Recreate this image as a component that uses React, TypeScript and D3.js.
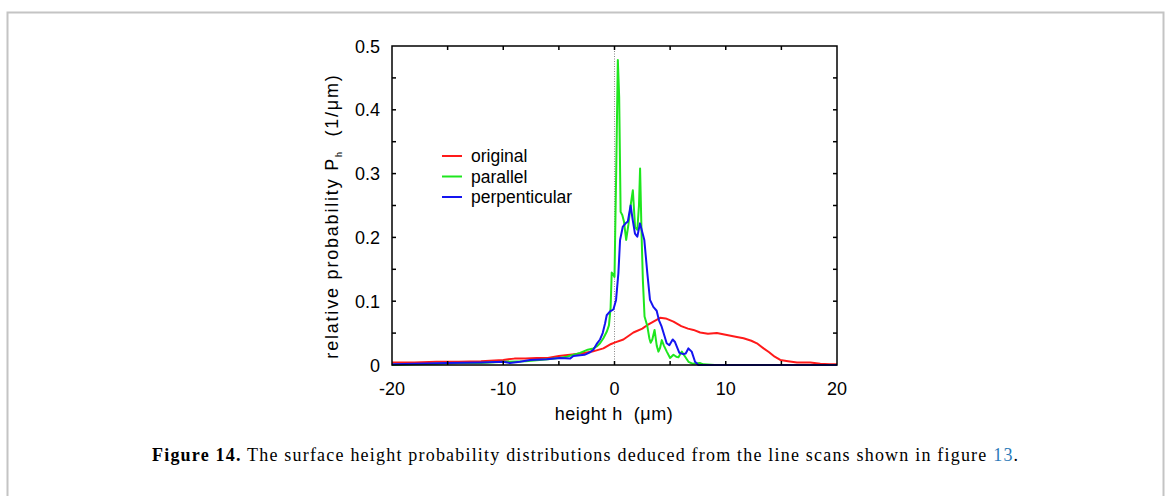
import React from "react";
import * as d3 from "d3";

// ---- data ----
const xTickLabels = [-20, -10, 0, 10, 20];
const yTickLabels = [0, 0.1, 0.2, 0.3, 0.4, 0.5];
const legendLabels = ["original", "parallel", "perpenticular"];

const originalX = [-20, -18, -16, -14, -12, -10, -9, -8, -7, -6, -5, -4, -3, -2, -1, -0.3, 0, 0.8, 1.7, 2.5, 2.9, 3.5, 4.1, 4.6, 5.3, 6.0, 6.6, 7.1, 7.7, 8.4, 9.2, 10.1, 11.0, 11.6, 12.3, 12.8, 13.4, 13.9, 14.4, 14.9, 15.6, 16.4, 17.6, 18.5, 19.3, 20];
const originalY = [0.004, 0.004, 0.005, 0.005, 0.006, 0.008, 0.010, 0.010, 0.011, 0.011, 0.014, 0.016, 0.018, 0.021, 0.026, 0.033, 0.035, 0.040, 0.051, 0.057, 0.062, 0.068, 0.074, 0.073, 0.068, 0.061, 0.057, 0.055, 0.051, 0.049, 0.050, 0.047, 0.044, 0.042, 0.038, 0.034, 0.026, 0.020, 0.013, 0.008, 0.006, 0.004, 0.004, 0.002, 0.001, 0.001];

const parallelX = [-20, -18, -16, -14, -12, -10, -8, -6, -5, -4.3, -3.5, -3.1, -2.4, -1.9, -1.6, -1.3, -1.0, -0.7, -0.5, -0.35, -0.25, -0.12, 0.0, 0.15, 0.3, 0.42, 0.55, 0.7, 0.85, 1.05, 1.25, 1.45, 1.65, 1.85, 2.05, 2.2, 2.3, 2.44, 2.55, 2.7, 2.95, 3.13, 3.25, 3.4, 3.6, 3.8, 3.95, 4.1, 4.25, 4.45, 4.7, 5.0, 5.3, 5.55, 5.75, 6.05, 6.35, 6.65, 7.0, 7.7, 8.0, 9.0, 20];
const parallelY = [0.0, 0.001, 0.002, 0.003, 0.003, 0.005, 0.006, 0.009, 0.011, 0.013, 0.017, 0.019, 0.024, 0.026, 0.029, 0.034, 0.042, 0.052, 0.062, 0.09, 0.145, 0.142, 0.138, 0.30, 0.478, 0.42, 0.24, 0.235, 0.225, 0.196, 0.22, 0.25, 0.274, 0.216, 0.212, 0.25, 0.308, 0.20, 0.133, 0.076, 0.061, 0.042, 0.035, 0.040, 0.055, 0.030, 0.021, 0.027, 0.039, 0.030, 0.021, 0.011, 0.016, 0.013, 0.012, 0.021, 0.013, 0.005, 0.002, 0.003, 0.001, 0.0, 0.0];

const perpX = [-20, -18, -15, -12, -10, -9.4, -8.5, -7.6, -6.1, -4.9, -4.0, -3.7, -2.7, -2.2, -1.9, -1.6, -1.3, -1.06, -0.85, -0.7, -0.4, -0.1, 0.14, 0.35, 0.5, 0.75, 1.0, 1.2, 1.45, 1.64, 1.84, 2.05, 2.29, 2.5, 2.68, 2.95, 3.19, 3.49, 3.79, 4.0, 4.24, 4.5, 4.69, 4.93, 5.23, 5.44, 5.83, 6.19, 6.4, 6.64, 6.94, 7.24, 7.54, 20];
const perpY = [0.001, 0.002, 0.003, 0.004, 0.005, 0.003, 0.005, 0.008, 0.009, 0.011, 0.010, 0.014, 0.016, 0.020, 0.024, 0.033, 0.040, 0.050, 0.065, 0.078, 0.084, 0.087, 0.102, 0.144, 0.196, 0.217, 0.222, 0.225, 0.250, 0.227, 0.206, 0.201, 0.222, 0.208, 0.196, 0.144, 0.102, 0.091, 0.085, 0.070, 0.060, 0.045, 0.034, 0.031, 0.040, 0.036, 0.019, 0.017, 0.018, 0.026, 0.021, 0.005, 0.0, 0.0];

const seriesColors = ["#ff1a1a", "#1ee61e", "#1414f0"];

export default function App() {
  const left = 392, right = 837, top = 46, bottom = 365;
  const x = d3.scaleLinear().domain([-20, 20]).range([left, right]);
  const y = d3.scaleLinear().domain([0, 0.5]).range([bottom, top]);
  const line = d3.line<[number, number]>().x(d => x(d[0])).y(d => y(d[1]));

  const series = [
    { xs: originalX, ys: originalY },
    { xs: parallelX, ys: parallelY },
    { xs: perpX, ys: perpY },
  ];

  const xMinor = d3.range(-15, 20, 5);
  const yMinor = d3.range(1, 10).map(i => i * 0.05);
  const tl = 4;
  const font = "'Liberation Sans', Arial, sans-serif";

  return (
    <svg width={1167} height={496} style={{ position: "absolute", left: 0, top: 0 }}>
      <rect x={0} y={0} width={1167} height={496} fill="#fff" />
      <rect x={7.5} y={12.5} width={1156} height={520} fill="none" stroke="#c4c4c4" strokeWidth={2} />

      {/* zero dotted line */}
      <line x1={x(0)} x2={x(0)} y1={top} y2={bottom} stroke="#888" strokeWidth={1} strokeDasharray="1,1.5" />

      {/* curves */}
      {series.map((s, i) => (
        <path key={i} d={line(s.xs.map((v, j) => [v, s.ys[j]]) as [number, number][]) || ""}
          fill="none" stroke={seriesColors[i]} strokeWidth={2} strokeLinejoin="round" />
      ))}

      {/* frame */}
      <rect x={left} y={top} width={right - left} height={bottom - top} fill="none" stroke="#000" strokeWidth={1.5} />

      {/* ticks */}
      {xMinor.map(v => (
        <g key={"xt" + v}>
          <line x1={x(v)} x2={x(v)} y1={bottom} y2={bottom - tl} stroke="#000" strokeWidth={1.5} />
          <line x1={x(v)} x2={x(v)} y1={top} y2={top + tl} stroke="#000" strokeWidth={1.5} />
        </g>
      ))}
      {yMinor.map(v => (
        <g key={"yt" + v}>
          <line x1={left} x2={left + tl} y1={y(v)} y2={y(v)} stroke="#000" strokeWidth={1.5} />
          <line x1={right} x2={right - tl} y1={y(v)} y2={y(v)} stroke="#000" strokeWidth={1.5} />
        </g>
      ))}

      {/* tick labels */}
      {xTickLabels.map(v => (
        <text key={"xl" + v} x={x(v)} y={395} textAnchor="middle" fontFamily={font} fontSize={18} fill="#000">{v}</text>
      ))}
      {yTickLabels.map(v => (
        <text key={"yl" + v} x={380} y={y(v) + 6.5} textAnchor="end" fontFamily={font} fontSize={18} fill="#000">{v === 0 ? "0" : v.toFixed(1)}</text>
      ))}

      {/* axis titles */}
      <text x={614} y={420} textAnchor="middle" fontFamily={font} fontSize={18} letterSpacing={0.5} fill="#000">{"height h\u00A0\u00A0(\u03BCm)"}</text>
      <text transform="translate(338,216) rotate(-90)" textAnchor="middle" fontFamily={font} fontSize={18} letterSpacing={1.8} fill="#000">
        {"relative probability P"}
        <tspan fontSize={9} dy={4}>h</tspan>
        <tspan dy={-4}>{"\u00A0\u00A0(1/\u03BCm)"}</tspan>
      </text>

      {/* legend */}
      {legendLabels.map((lab, i) => (
        <g key={lab}>
          <line x1={442} x2={462} y1={156 + i * 20.5} y2={156 + i * 20.5} stroke={seriesColors[i]} strokeWidth={2} />
          <text x={471} y={156 + i * 20.5 + 6} fontFamily={font} fontSize={17.5} fill="#000">{lab}</text>
        </g>
      ))}

      {/* caption */}
      <text x={152} y={461} fontFamily="'Liberation Serif', 'Times New Roman', serif" fontSize={18} letterSpacing={1.2} fill="#000">
        <tspan fontWeight="bold">Figure 14.</tspan>
        <tspan>{" The surface height probability distributions deduced from the line scans shown in figure "}</tspan>
        <tspan fill="#2a7ab8">13</tspan>
        <tspan>.</tspan>
      </text>
    </svg>
  );
}
